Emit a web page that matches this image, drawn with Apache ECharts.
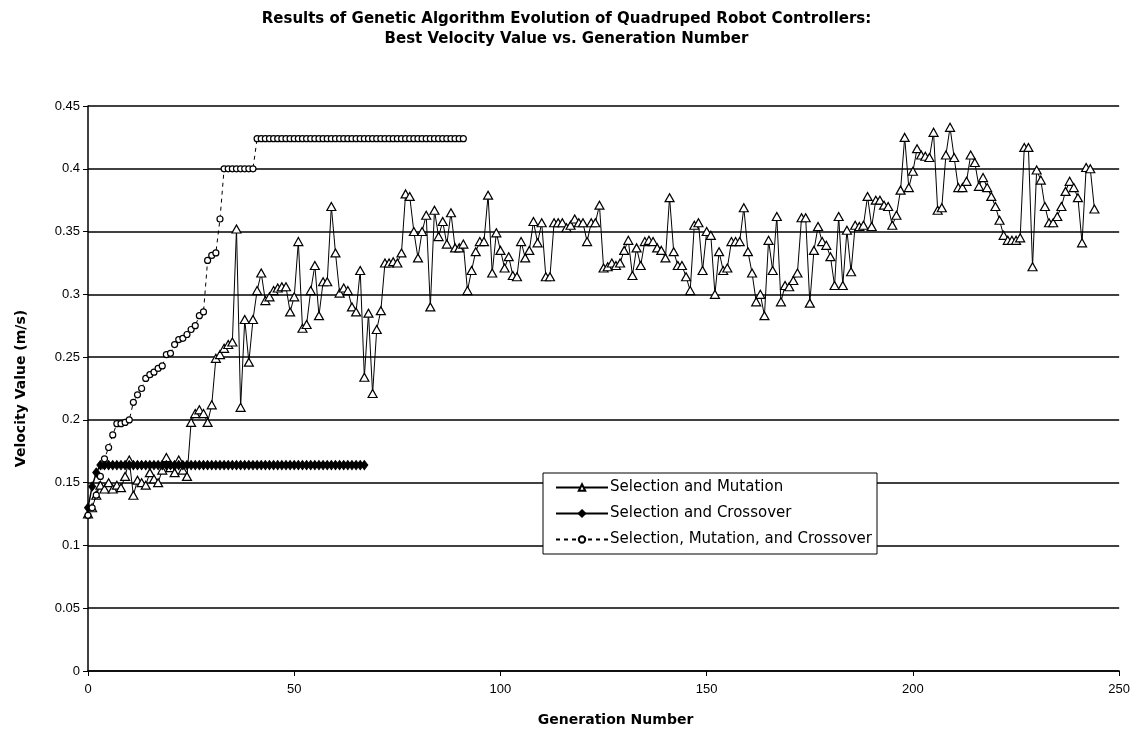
<!DOCTYPE html>
<html>
<head>
<meta charset="utf-8">
<title>Best Velocity Value vs. Generation Number</title>
<script src="https://cdn.jsdelivr.net/npm/echarts@6/dist/echarts.min.js"></script>
<style>
  html, body { margin: 0; padding: 0; background: #fff; }
  #chart { width: 1133px; height: 734px; }
</style>
</head>
<body>
<div id="chart"></div>
<script>
// Best velocity (m/s) per generation, one value per generation starting at 0.

// Selection and Mutation (generations 0..244)
const mutationVelocity = [
  0.125, 0.130, 0.140, 0.148, 0.145, 0.150, 0.145, 0.148, 0.146, 0.155,
  0.168, 0.140, 0.152, 0.150, 0.148, 0.158, 0.153, 0.150, 0.160, 0.170,
  0.162, 0.158, 0.168, 0.160, 0.155, 0.198, 0.205, 0.208, 0.205, 0.198,
  0.212, 0.249, 0.252, 0.257, 0.260, 0.262, 0.352, 0.210, 0.280, 0.246,
  0.280, 0.303, 0.317, 0.295, 0.298, 0.303, 0.305, 0.306, 0.306, 0.286,
  0.298, 0.342, 0.273, 0.276, 0.303, 0.323, 0.283, 0.310, 0.310, 0.370,
  0.333, 0.301, 0.305, 0.303, 0.290, 0.286, 0.319, 0.234, 0.285, 0.221,
  0.272, 0.287, 0.325, 0.325, 0.326, 0.325, 0.333, 0.380, 0.378, 0.350,
  0.329, 0.350, 0.363, 0.290, 0.367, 0.346, 0.358, 0.340, 0.365, 0.337,
  0.337, 0.340, 0.303, 0.319, 0.334, 0.342, 0.342, 0.379, 0.317, 0.349,
  0.335, 0.321, 0.330, 0.315, 0.314, 0.342, 0.329, 0.335, 0.358, 0.341,
  0.357, 0.314, 0.314, 0.357, 0.357, 0.357, 0.353, 0.355, 0.360, 0.357,
  0.357, 0.342, 0.357, 0.357, 0.371, 0.321, 0.322, 0.325, 0.323, 0.325,
  0.335, 0.343, 0.315, 0.337, 0.323, 0.342, 0.343, 0.342, 0.337, 0.335,
  0.329, 0.377, 0.334, 0.323, 0.323, 0.314, 0.303, 0.355, 0.357, 0.319,
  0.350, 0.347, 0.300, 0.334, 0.319, 0.321, 0.342, 0.342, 0.342, 0.369,
  0.334, 0.317, 0.294, 0.300, 0.283, 0.343, 0.319, 0.362, 0.294, 0.307,
  0.306, 0.311, 0.317, 0.361, 0.361, 0.293, 0.335, 0.354, 0.342, 0.339,
  0.330, 0.307, 0.362, 0.307, 0.351, 0.318, 0.355, 0.354, 0.355, 0.378,
  0.354, 0.375, 0.375, 0.371, 0.370, 0.355, 0.363, 0.383, 0.425, 0.385,
  0.398, 0.416, 0.411, 0.410, 0.409, 0.429, 0.367, 0.369, 0.411, 0.433,
  0.409, 0.385, 0.385, 0.390, 0.411, 0.405, 0.386, 0.393, 0.385, 0.378,
  0.370, 0.359, 0.347, 0.343, 0.343, 0.343, 0.345, 0.417, 0.417, 0.322,
  0.399, 0.391, 0.370, 0.357, 0.357, 0.362, 0.370, 0.382, 0.390, 0.385,
  0.377, 0.341, 0.401, 0.400, 0.368
];

// Selection and Crossover (generations 0..67)
const crossoverVelocity = [
  0.130, 0.147, 0.158, 0.164, 0.164, 0.164, 0.164, 0.164, 0.164, 0.164,
  0.164, 0.164, 0.164, 0.164, 0.164, 0.164, 0.164, 0.164, 0.164, 0.164,
  0.164, 0.164, 0.164, 0.164, 0.164, 0.164, 0.164, 0.164, 0.164, 0.164,
  0.164, 0.164, 0.164, 0.164, 0.164, 0.164, 0.164, 0.164, 0.164, 0.164,
  0.164, 0.164, 0.164, 0.164, 0.164, 0.164, 0.164, 0.164, 0.164, 0.164,
  0.164, 0.164, 0.164, 0.164, 0.164, 0.164, 0.164, 0.164, 0.164, 0.164,
  0.164, 0.164, 0.164, 0.164, 0.164, 0.164, 0.164, 0.164
];

// Selection, Mutation, and Crossover (generations 0..91)
const combinedVelocity = [
  0.124, 0.130, 0.140, 0.155, 0.169, 0.178, 0.188, 0.197, 0.197, 0.198,
  0.200, 0.214, 0.220, 0.225, 0.233, 0.236, 0.238, 0.241, 0.243, 0.252,
  0.253, 0.260, 0.264, 0.265, 0.268, 0.272, 0.275, 0.283, 0.286, 0.327,
  0.331, 0.333, 0.360, 0.400, 0.400, 0.400, 0.400, 0.400, 0.400, 0.400,
  0.400, 0.424, 0.424, 0.424, 0.424, 0.424, 0.424, 0.424, 0.424, 0.424,
  0.424, 0.424, 0.424, 0.424, 0.424, 0.424, 0.424, 0.424, 0.424, 0.424,
  0.424, 0.424, 0.424, 0.424, 0.424, 0.424, 0.424, 0.424, 0.424, 0.424,
  0.424, 0.424, 0.424, 0.424, 0.424, 0.424, 0.424, 0.424, 0.424, 0.424,
  0.424, 0.424, 0.424, 0.424, 0.424, 0.424, 0.424, 0.424, 0.424, 0.424,
  0.424, 0.424
];

const seriesNames = [
  'Selection and Mutation',
  'Selection and Crossover',
  'Selection, Mutation, and Crossover'
];

const xTicks = [0, 50, 100, 150, 200, 250];
const yTicks = [0, 0.05, 0.1, 0.15, 0.2, 0.25, 0.3, 0.35, 0.4, 0.45];

const titleLines = [
  'Results of Genetic Algorithm Evolution of Quadruped Robot Controllers:',
  'Best Velocity Value vs. Generation Number'
];

const toPairs = arr => arr.map((v, g) => [g, v]);

const FONT = '"Liberation Sans", Arial, sans-serif';
const WIDE = '"DejaVu Sans", Verdana, sans-serif';
const chart = echarts.init(document.getElementById('chart'), null, { renderer: 'canvas' });

chart.setOption({
  backgroundColor: '#ffffff',
  animation: false,
  title: {
    text: titleLines.join('\n'),
    left: 'center',
    top: 4,
    textStyle: {
      fontFamily: WIDE,
      fontWeight: 'bold',
      fontSize: 15,
      lineHeight: 20,
      color: '#000'
    }
  },
  grid: { left: 88, right: 13, top: 106, bottom: 63, containLabel: false },
  legend: {
    orient: 'vertical',
    left: 543,
    top: 473,
    padding: [6, 5, 6, 12],
    itemGap: 9,
    itemWidth: 52,
    itemHeight: 8,
    backgroundColor: '#ffffff',
    borderColor: '#000',
    borderWidth: 1,
    textStyle: { fontFamily: WIDE, fontSize: 15, lineHeight: 17, color: '#000', padding: [0, 0, 0, -3] },
    data: seriesNames
  },
  xAxis: {
    type: 'value',
    min: xTicks[0],
    max: xTicks[xTicks.length - 1],
    interval: 50,
    name: 'Generation Number',
    nameLocation: 'middle',
    nameGap: 42,
    nameTextStyle: { fontFamily: WIDE, fontWeight: 'bold', fontSize: 14, color: '#000', padding: [0, 0, 0, 24] },
    axisLine: { show: true, lineStyle: { color: '#000', width: 1.5 } },
    axisTick: { show: true, inside: false, length: 5, lineStyle: { color: '#000' } },
    axisLabel: { fontFamily: FONT, fontSize: 13, color: '#000', margin: 12 },
    splitLine: { show: false }
  },
  yAxis: {
    type: 'value',
    min: yTicks[0],
    max: yTicks[yTicks.length - 1],
    interval: 0.05,
    name: 'Velocity Value (m/s)',
    nameLocation: 'middle',
    nameGap: 60,
    nameTextStyle: { fontFamily: WIDE, fontWeight: 'bold', fontSize: 14, color: '#000' },
    axisLine: { show: true, lineStyle: { color: '#000', width: 1.5 } },
    axisTick: { show: true, inside: false, length: 5, lineStyle: { color: '#000' } },
    axisLabel: {
      fontFamily: FONT, fontSize: 13, color: '#000', margin: 8,
      formatter: v => String(+v.toFixed(2))
    },
    splitLine: { show: true, lineStyle: { color: '#000', width: 1.5 } }
  },
  series: [
    {
      name: seriesNames[0],
      type: 'line',
      data: toPairs(mutationVelocity),
      symbol: 'triangle',
      symbolSize: [9, 8],
      showAllSymbol: true,
      z: 3,
      lineStyle: { color: '#000', width: 1 },
      itemStyle: { color: '#fff', borderColor: '#000', borderWidth: 1.2 }
    },
    {
      name: seriesNames[1],
      type: 'line',
      data: toPairs(crossoverVelocity),
      symbol: 'diamond',
      symbolSize: [7, 9],
      showAllSymbol: true,
      z: 4,
      lineStyle: { color: '#000', width: 1.5 },
      itemStyle: { color: '#000', borderColor: '#000', borderWidth: 1 }
    },
    {
      name: seriesNames[2],
      type: 'line',
      data: toPairs(combinedVelocity),
      symbol: 'circle',
      symbolSize: 6,
      showAllSymbol: true,
      z: 5,
      lineStyle: { color: '#000', width: 1, type: [4, 4] },
      itemStyle: { color: '#fff', borderColor: '#000', borderWidth: 1.2 }
    }
  ]
});
</script>
</body>
</html>
